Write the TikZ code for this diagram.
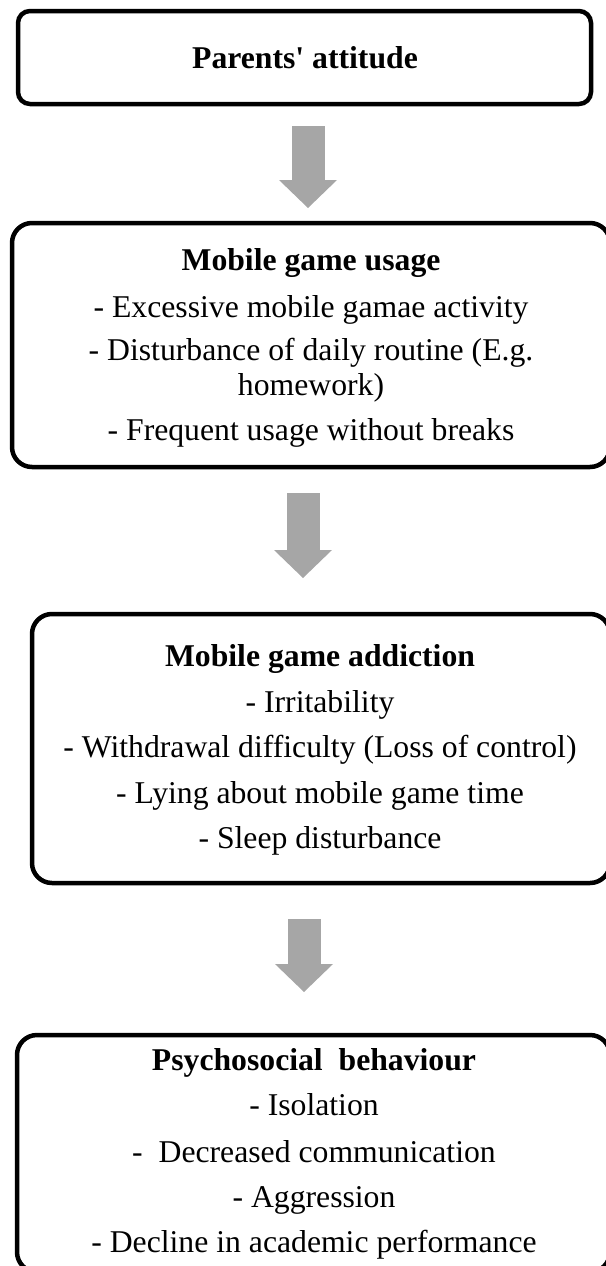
\documentclass[tikz,border=0pt]{standalone}
\usepackage{fontspec}
\setmainfont[Ligatures=TeXOff]{Liberation Serif}
\usetikzlibrary{arrows.meta,calc}
\definecolor{arrowgray}{RGB}{166,166,166}
\begin{document}
\begin{tikzpicture}[x=1pt,y=-1pt,
  box/.style={draw=black, line width=4.5pt, rounded corners=20pt, inner sep=0pt, outer sep=0pt},
  txt/.style={inner sep=0pt, anchor=base, font=\fontsize{31.7}{36}\selectfont},
  ttl/.style={inner sep=0pt, anchor=base, font=\fontsize{31.7}{36}\selectfont\bfseries},
  blk/.style={draw=arrowgray, line width=33pt, -{Triangle[length=28pt,width=58pt,line width=0pt]}}]
\useasboundingbox (0,0) rectangle (605,1266);

% boxes
\node[box, rounded corners=12pt, minimum width=573pt, minimum height=93pt] (b1) at (304.5,57.5) {};
\node[box, minimum width=598pt, minimum height=244pt] (b2) at (311,345) {};
\node[box, minimum width=578pt, minimum height=269pt] (b3) at (321,748.5) {};
\node[box, minimum width=593pt, minimum height=237pt] (b4) at (313.5,1153.5) {};

% arrows
\coordinate (x1) at (308,0);
\coordinate (x2) at (303,0);
\coordinate (x3) at (304,0);
\draw[blk, shorten <=22pt, shorten >=15pt] (b1.south -| x1) -- (b2.north -| x1);
\draw[blk, shorten <=26pt, shorten >=36pt] (b2.south -| x2) -- (b3.north -| x2);
\draw[blk, shorten <=36pt, shorten >=43pt] (b3.south -| x3) -- (b4.north -| x3);

% texts
\node[ttl] (t1) at (305,68) {Parents' attitude};

\node[ttl] (t2) at (311,270) {Mobile game usage};
\node[txt] (t2a) at (311,317) {- Excessive mobile gamae activity};
\node[txt] (t2b) at (311,360) {- Disturbance of daily routine (E.g.};
\node[txt] (t2c) at (311,395) {homework)};
\node[txt] (t2d) at (311,440) {- Frequent usage without breaks};

\node[ttl] (t3) at (320,666) {Mobile game addiction};
\node[txt] (t3a) at (320,712) {- Irritability};
\node[txt] (t3b) at (320,757) {- Withdrawal difficulty (Loss of control)};
\node[txt] (t3c) at (320,803) {- Lying about mobile game time};
\node[txt] (t3d) at (320,848) {- Sleep disturbance};

\node[ttl] (t4) at (314,1070) {Psychosocial\ \ behaviour};
\node[txt] (t4a) at (314,1115) {- Isolation};
\node[txt] (t4b) at (314,1162) {-\ \ Decreased communication};
\node[txt] (t4c) at (314,1207) {- Aggression};
\node[txt] (t4d) at (314,1252) {- Decline in academic performance};
\end{tikzpicture}
\end{document}
